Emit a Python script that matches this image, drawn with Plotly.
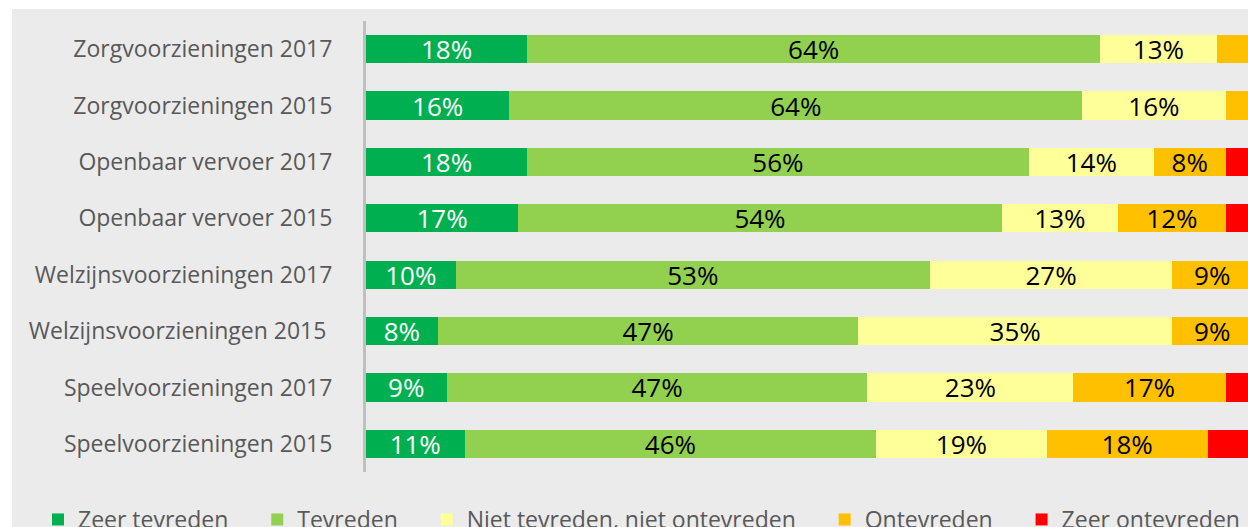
import plotly.graph_objects as go

# categorieën (van boven naar beneden)
categories = [
    'Zorgvoorzieningen 2017', 'Zorgvoorzieningen 2015',
    'Openbaar vervoer 2017', 'Openbaar vervoer 2015',
    'Welzijnsvoorzieningen 2017', 'Welzijnsvoorzieningen 2015\u00a0',
    'Speelvoorzieningen 2017', 'Speelvoorzieningen 2015',
]

zeer_tevreden = [18, 16, 18, 17, 10, 8, 9, 11]
tevreden = [64, 64, 56, 54, 53, 47, 47, 46]
neutraal = [13, 16, 14, 13, 27, 35, 23, 19]
ontevreden = [4, 3, 8, 12, 9, 9, 17, 18]
zeer_ontevreden = [1, 1, 4, 4, 1, 1, 4, 6]

# labels die in het origineel buiten beeld vallen blijven leeg
ontevreden_labels = ['', '', '8%', '12%', '9%', '9%', '17%', '18%']

series = [
    ('Zeer tevreden', zeer_tevreden, '#00b050', 'white', None),
    ('Tevreden', tevreden, '#92d050', 'black', None),
    ('Niet tevreden, niet ontevreden', neutraal, '#ffff99', 'black', None),
    ('Ontevreden', ontevreden, '#ffc000', 'black', ontevreden_labels),
    ('Zeer ontevreden', zeer_ontevreden, '#ff0000', 'black', [''] * len(categories)),
]

pad = '\u00a0' * 4  # wat extra ruimte tussen de legenda-items

fig = go.Figure()
for name, values, color, txtcolor, labels in series:
    if labels is None:
        labels = [f'{v}%' for v in values]
    fig.add_trace(go.Bar(
        y=categories, x=values, name=name + pad, orientation='h',
        marker=dict(color=color, line=dict(width=0)),
        text=labels, textposition='inside', insidetextanchor='middle',
        constraintext='none',
        textfont=dict(family='Open Sans', size=26, color=txtcolor),
        width=0.5, cliponaxis=True,
    ))

W, H = 1248, 527
L, T, B = 366, 21, 55
pw, ph = W - L, H - T - B

# grijze achtergrond van de grafiek (witte rand links en boven)
fig.add_shape(
    type='rect', xref='paper', yref='paper', layer='below',
    x0=(12 - L) / pw, x1=1.02, y0=-(B + 5) / ph, y1=1 + (T - 9) / ph,
    fillcolor='#ebebeb', line=dict(width=0),
)

fig.update_layout(
    width=W, height=H, barmode='stack',
    margin=dict(l=L, r=0, t=T, b=B, autoexpand=False),
    paper_bgcolor='white', plot_bgcolor='#ebebeb',
    font=dict(family='Open Sans', color='#595959'),
    showlegend=True,
    legend=dict(
        orientation='h', xref='paper', yref='paper',
        x=(38 - L) / pw, y=1 - (498 - T) / ph, yanchor='top', xanchor='left',
        font=dict(size=23, color='#595959'), bgcolor='rgba(0,0,0,0)',
        traceorder='normal',
    ),
    xaxis=dict(range=[0, 98.5], showgrid=False, zeroline=False,
               showticklabels=False, showline=False),
    yaxis=dict(autorange='reversed', showgrid=False, showline=True,
               linecolor='#bfbfbf', linewidth=3, ticks='',
               tickfont=dict(size=23, color='#595959'),
               ticklabelstandoff=26),
)

fig.write_html('out.html', config={'displayModeBar': False},
               post_script="document.body.style.margin='0';")
